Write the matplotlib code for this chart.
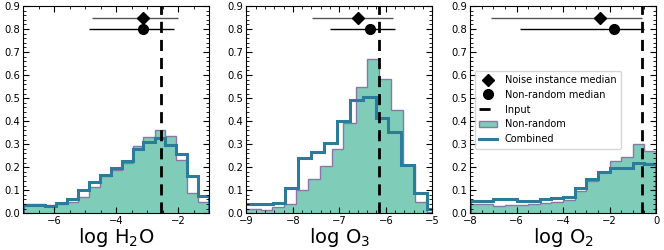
import matplotlib
matplotlib.use("Agg")
import matplotlib.pyplot as plt
from matplotlib.ticker import AutoMinorLocator, MultipleLocator

# ---- data ----
labels = [r"$\log\,\mathrm{H_2O}$", r"$\log\,\mathrm{O_3}$", r"$\log\,\mathrm{O_2}$"]
xlims = [(-7, -1), (-9, -5), (-8, 0)]
xsteps = [2, 1, 2]

# H2O
h2o_edges = [-7.0, -6.65, -6.29, -5.94, -5.59, -5.24, -4.88, -4.53, -4.18,
             -3.82, -3.47, -3.12, -2.76, -2.41, -2.06, -1.71, -1.35, -1.0]
h2o_nonrandom = [0.040, 0.039, 0.036, 0.040, 0.050, 0.072, 0.113, 0.160, 0.188,
                 0.217, 0.291, 0.333, 0.360, 0.336, 0.230, 0.087, 0.048]
h2o_combined = [0.037, 0.035, 0.033, 0.043, 0.060, 0.100, 0.137, 0.167, 0.198,
                0.225, 0.278, 0.311, 0.328, 0.298, 0.257, 0.162, 0.077]

# O3
o3_edges_nonrandom = [-9.2, -8.95, -8.69, -8.44, -8.18, -7.93, -7.67, -7.42, -7.16,
                      -6.91, -6.65, -6.40, -6.14, -5.89, -5.63, -5.38, -5.12, -4.87]
o3_nonrandom = [0.020, 0.020, 0.013, 0.028, 0.040, 0.100, 0.150, 0.205, 0.280,
                0.390, 0.548, 0.668, 0.585, 0.450, 0.210, 0.050, 0.005]
o3_edges_combined = [-9.26, -8.98, -8.71, -8.43, -8.16, -7.88, -7.60, -7.33, -7.05,
                     -6.78, -6.50, -6.22, -5.95, -5.67, -5.40, -5.12, -4.84]
o3_combined = [0.039, 0.039, 0.040, 0.046, 0.110, 0.240, 0.267, 0.303, 0.400,
               0.490, 0.505, 0.415, 0.355, 0.210, 0.090, 0.020]

# O2
o2_edges = [-8.0, -7.5, -7.0, -6.5, -6.0, -5.5, -5.0, -4.5, -4.0,
            -3.5, -3.0, -2.5, -2.0, -1.5, -1.0, -0.5, 0.0]
o2_nonrandom = [0.040, 0.040, 0.033, 0.036, 0.036, 0.040, 0.043, 0.050, 0.057,
                0.098, 0.138, 0.180, 0.229, 0.246, 0.300, 0.272]
o2_combined = [0.054, 0.054, 0.061, 0.061, 0.055, 0.055, 0.061, 0.065, 0.072,
               0.109, 0.148, 0.177, 0.196, 0.196, 0.220, 0.213]

# input value, medians (y=0.85 noise instance, y=0.80 non-random) with ranges
inputs = [-2.55, -6.14, -0.62]
noise_med = [-3.12, -6.59, -2.43]
noise_lo = [-4.78, -7.59, -7.08]
noise_hi = [-2.01, -5.85, -0.60]
nonrand_med = [-3.15, -6.35, -1.79]
nonrand_lo = [-4.89, -7.21, -5.85]
nonrand_hi = [-2.15, -5.80, -0.50]

hists = [
    (h2o_edges, h2o_nonrandom, h2o_edges, h2o_combined),
    (o3_edges_nonrandom, o3_nonrandom, o3_edges_combined, o3_combined),
    (o2_edges, o2_nonrandom, o2_edges, o2_combined),
]

green = "#7fcdb9"
purple = "#8878a8"
blue = "#2b7b9b"

fig = plt.figure(figsize=(6.64, 2.5), dpi=100)
lefts = [0.035, 0.371, 0.708]

for i in range(3):
    ax = fig.add_axes([lefts[i], 0.147, 0.280, 0.829])
    e_nr, v_nr, e_c, v_c = hists[i]

    ax.stairs(v_nr, e_nr, fill=True, facecolor=green, edgecolor=purple,
              linewidth=1.0, label="Non-random")
    ax.stairs(v_c, e_c, fill=False, edgecolor=blue, linewidth=2.2,
              label="Combined")
    ax.axvline(inputs[i], color="black", ls="--", lw=2.0, dashes=(4, 2.5),
               label="Input")

    ax.errorbar(noise_med[i], 0.85,
                xerr=[[noise_med[i] - noise_lo[i]], [noise_hi[i] - noise_med[i]]],
                fmt="D", color="black", ecolor="#555555", elinewidth=1.0,
                markersize=6, label="Noise instance median")
    ax.errorbar(nonrand_med[i], 0.80,
                xerr=[[nonrand_med[i] - nonrand_lo[i]], [nonrand_hi[i] - nonrand_med[i]]],
                fmt="o", color="black", ecolor="black", elinewidth=1.0,
                markersize=7, label="Non-random median")

    ax.set_xlim(*xlims[i])
    ax.set_ylim(0, 0.9)
    ax.xaxis.set_major_locator(MultipleLocator(xsteps[i]))
    ax.yaxis.set_major_locator(MultipleLocator(0.1))
    ax.xaxis.set_minor_locator(AutoMinorLocator())
    ax.yaxis.set_minor_locator(AutoMinorLocator())
    ax.tick_params(which="both", direction="in", top=True, right=True,
                   labelsize=7.2, pad=2)
    ax.tick_params(which="major", length=4)
    ax.tick_params(which="minor", length=2)
    ax.set_xlabel(labels[i], fontsize=14, labelpad=0)

    if i == 2:
        h, l = ax.get_legend_handles_labels()
        order = [l.index(n) for n in ["Noise instance median", "Non-random median",
                                      "Input", "Non-random", "Combined"]]
        ax.legend([h[k] for k in order], [l[k] for k in order],
                  loc="center left", bbox_to_anchor=(0.0, 0.5), fontsize=7,
                  frameon=True, framealpha=0.8, handlelength=1.8,
                  borderpad=0.45, labelspacing=0.5)

fig.savefig("out.png", dpi=100)
